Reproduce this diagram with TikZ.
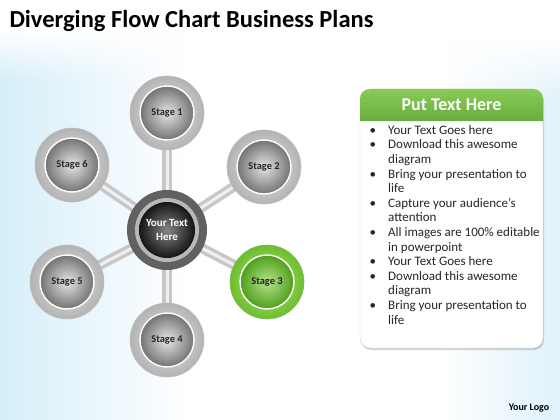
\documentclass[tikz,border=0pt]{standalone}
\usepackage{fontspec}
\setmainfont{Carlito}
\usetikzlibrary{shadows,fadings}
\definecolor{bgblue}{HTML}{D6EEF9}
\definecolor{leaf}{HTML}{6CBE2C}
\definecolor{leaflight}{HTML}{B4E48A}
\definecolor{leafdark}{HTML}{4F9E1C}
\pgfdeclarelayer{bg}
\pgfdeclarelayer{spokes}
\pgfsetlayers{bg,spokes,main}
\newcommand{\bul}{\llap{\textbullet\hspace{12pt}}}
\tikzset{
  bezel/.style={circle, minimum size=74pt, inner sep=0pt, draw=black!25, line width=0.6pt,
    inner color=black!8, outer color=black!30},
  disc/.style={circle, minimum size=54pt, inner sep=0pt, draw=white, line width=1.4pt,
    inner color=black!10, outer color=black!55, text=black!85,
    font=\bfseries\fontsize{10.4}{12}\selectfont},
  spoke/.style={draw=black!22, line width=3.5pt, double=black!6, double distance=3pt,
    shorten <=-4pt, shorten >=-4pt}
}
\begin{document}
\begin{tikzpicture}[x=1pt, y=-1pt]
  \useasboundingbox (0,0) rectangle (560,420);
  \begin{pgfonlayer}{bg}
    \fill[white] (0,0) rectangle (560,420);
    \shade[left color=bgblue, right color=white, path fading=north] (0,30) rectangle (190,80);
    \shade[left color=bgblue, right color=white] (0,79.5) rectangle (190,420);
    \shade[left color=white, right color=bgblue!80, path fading=north] (440,40) rectangle (560,100);
    \shade[left color=white, right color=bgblue!80] (440,99.5) rectangle (560,420);
  \end{pgfonlayer}
  \node[anchor=west, font=\bfseries\fontsize{24.5}{28}\selectfont] (title) at (6,21)
    {Diverging Flow Chart Business Plans};

  \node[circle, minimum size=80pt, inner sep=0pt, fill=black!62] (hub) at (167,230) {};
  \node[circle, minimum size=64pt, inner sep=0pt, fill=black!28] (hubgap) at (hub) {};
  \node[circle, minimum size=56pt, inner sep=0pt, inner color=black!48, outer color=black!92,
    text=white, align=center, font=\bfseries\fontsize{11}{13.5}\selectfont] (hubdisc) at (hub)
    {Your Text\\Here};

  \node[bezel] (s1) at (167,113) {};
  \node[disc] (s1d) at (s1) {Stage 1};
  \node[bezel] (s2) at (264,167) {};
  \node[disc] (s2d) at (s2) {Stage 2};
  \node[bezel, draw=leafdark!70, inner color=leaflight, outer color=leaf] (s3) at (267,282) {};
  \node[disc, inner color=leaflight, outer color=leafdark] (s3d) at (s3) {Stage 3};
  \node[bezel] (s4) at (167,340) {};
  \node[disc] (s4d) at (s4) {Stage 4};
  \node[bezel] (s5) at (67,282) {};
  \node[disc] (s5d) at (s5) {Stage 5};
  \node[bezel] (s6) at (72,165) {};
  \node[disc] (s6d) at (s6) {Stage 6};

  \begin{pgfonlayer}{spokes}
    \draw[spoke] (hub) -- (s1);
    \draw[spoke] (hub) -- (s2);
    \draw[spoke] (hub) -- (s3);
    \draw[spoke] (hub) -- (s4);
    \draw[spoke] (hub) -- (s5);
    \draw[spoke] (hub) -- (s6);
  \end{pgfonlayer}

  % text panel
  \node[draw=black!18, fill=white, rounded corners=10pt, minimum width=183pt, minimum height=259pt,
    drop shadow={opacity=0.35, shadow xshift=1pt, shadow yshift=-2pt}] (panel) at (451.5,218.5) {};
  \shade[top color=leaf!80, bottom color=leafdark!85]
    (360,121) [rounded corners=10pt] -- (360,89) -- (543,89) [sharp corners] -- (543,121) -- cycle;
  \node[text=white, font=\bfseries\fontsize{18}{21}\selectfont] (head) at (451.5,105) {Put Text Here};
  \node[anchor=north west, inner sep=0pt, align=left, text=black!85,
    font=\fontsize{13}{14.6}\selectfont] (list) at (388,125) {%
    \bul Your Text Goes here\\
    \bul Download this awesome\\
    diagram\\
    \bul Bring your presentation to\\
    life\\
    \bul Capture your audience’s\\
    attention\\
    \bul All images are 100\% editable\\
    in powerpoint\\
    \bul Your Text Goes here\\
    \bul Download this awesome\\
    diagram\\
    \bul Bring your presentation to\\
    life};

  \node[font=\bfseries\fontsize{10}{12}\selectfont] (logo) at (529,408) {Your Logo};
\end{tikzpicture}
\end{document}
